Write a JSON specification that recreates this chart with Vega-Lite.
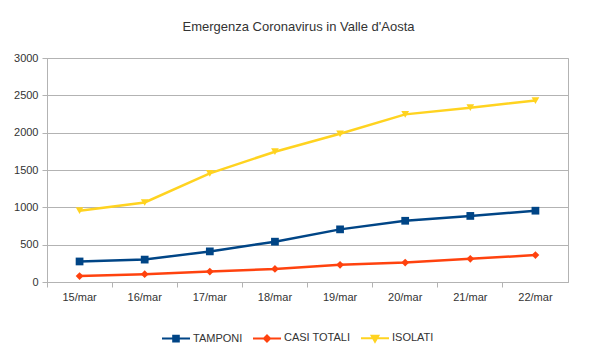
{
  "$schema": "https://vega.github.io/schema/vega-lite/v6.json",
  "autosize": {"type": "none"},
  "padding": {"left": 47, "top": 58, "right": 32, "bottom": 71},
  "width": 521,
  "height": 224,
  "background": "white",
  "title": {
    "text": "Emergenza Coronavirus in Valle d'Aosta",
    "font": "Liberation Sans",
    "fontSize": 13,
    "fontWeight": "normal",
    "color": "#333333",
    "anchor": "middle",
    "dx": -9,
    "offset": 18
  },
  "config": {
    "view": {"stroke": "#b3b3b3", "strokeWidth": 1},
    "font": "Liberation Sans",
    "axis": {
      "labelFont": "Liberation Sans",
      "labelFontSize": 11,
      "labelColor": "#333333",
      "domainColor": "#b3b3b3",
      "tickColor": "#b3b3b3",
      "gridColor": "#b3b3b3",
      "tickSize": 5,
      "title": null
    },
    "legend": {
      "labelFont": "Liberation Sans",
      "labelFontSize": 11,
      "labelColor": "#333333"
    }
  },
  "data": {
    "values": [
      {"giorno": "15/mar", "serie": "TAMPONI", "valore": 275},
      {"giorno": "16/mar", "serie": "TAMPONI", "valore": 300},
      {"giorno": "17/mar", "serie": "TAMPONI", "valore": 410},
      {"giorno": "18/mar", "serie": "TAMPONI", "valore": 540},
      {"giorno": "19/mar", "serie": "TAMPONI", "valore": 705},
      {"giorno": "20/mar", "serie": "TAMPONI", "valore": 820},
      {"giorno": "21/mar", "serie": "TAMPONI", "valore": 885},
      {"giorno": "22/mar", "serie": "TAMPONI", "valore": 955},
      {"giorno": "15/mar", "serie": "CASI TOTALI", "valore": 80},
      {"giorno": "16/mar", "serie": "CASI TOTALI", "valore": 105},
      {"giorno": "17/mar", "serie": "CASI TOTALI", "valore": 140},
      {"giorno": "18/mar", "serie": "CASI TOTALI", "valore": 175},
      {"giorno": "19/mar", "serie": "CASI TOTALI", "valore": 230},
      {"giorno": "20/mar", "serie": "CASI TOTALI", "valore": 260},
      {"giorno": "21/mar", "serie": "CASI TOTALI", "valore": 310},
      {"giorno": "22/mar", "serie": "CASI TOTALI", "valore": 360},
      {"giorno": "15/mar", "serie": "ISOLATI", "valore": 955},
      {"giorno": "16/mar", "serie": "ISOLATI", "valore": 1065},
      {"giorno": "17/mar", "serie": "ISOLATI", "valore": 1455},
      {"giorno": "18/mar", "serie": "ISOLATI", "valore": 1745},
      {"giorno": "19/mar", "serie": "ISOLATI", "valore": 1985},
      {"giorno": "20/mar", "serie": "ISOLATI", "valore": 2245},
      {"giorno": "21/mar", "serie": "ISOLATI", "valore": 2335},
      {"giorno": "22/mar", "serie": "ISOLATI", "valore": 2430}
    ]
  },
  "encoding": {
    "x": {
      "field": "giorno",
      "type": "ordinal",
      "bandPosition": 0.5,
      "scale": {"type": "band", "paddingInner": 0, "paddingOuter": 0},
      "axis": {
        "labelAngle": 0,
        "bandPosition": 0,
        "labelOffset": 0,
        "labelPadding": 4,
        "grid": false
      }
    },
    "y": {
      "field": "valore",
      "type": "quantitative",
      "scale": {"domain": [0, 3000], "nice": false},
      "axis": {"values": [0, 500, 1000, 1500, 2000, 2500, 3000], "format": "d", "labelPadding": 4, "grid": true}
    },
    "color": {
      "field": "serie",
      "type": "nominal",
      "scale": {
        "domain": ["TAMPONI", "CASI TOTALI", "ISOLATI"],
        "range": ["#004586", "#ff420e", "#ffd320"]
      },
      "legend": {
        "title": null,
        "orient": "none",
        "direction": "horizontal",
        "legendX": 114,
        "legendY": 265,
        "columnPadding": 6,
        "labelOffset": 2,
        "symbolSize": 784,
        "symbolStrokeWidth": 2,
        "encode": {
          "symbols": {
            "update": {
              "shape": {"signal": "datum.value === 'TAMPONI' ? 'M-1,0H1M-0.2,-0.2H0.2V0.2H-0.2Z' : datum.value === 'CASI TOTALI' ? 'M-1,0H1M0,-0.22L0.22,0L0,0.22L-0.22,0Z' : 'M-1,0H1M-0.24,-0.18H0.24L0,0.24Z'"},
              "strokeWidth": {"value": 2}
            }
          }
        }
      }
    }
  },
  "layer": [
    {"mark": {"type": "line", "strokeWidth": 2.5}},
    {
      "transform": [{"filter": "datum.serie === 'TAMPONI'"}],
      "mark": {"type": "point", "shape": "square", "filled": true, "opacity": 1, "size": 60}
    },
    {
      "transform": [{"filter": "datum.serie === 'CASI TOTALI'"}],
      "mark": {"type": "point", "shape": "diamond", "filled": true, "opacity": 1, "size": 60}
    },
    {
      "transform": [{"filter": "datum.serie === 'ISOLATI'"}],
      "mark": {"type": "point", "shape": "triangle-down", "filled": true, "opacity": 1, "size": 60}
    }
  ]
}
